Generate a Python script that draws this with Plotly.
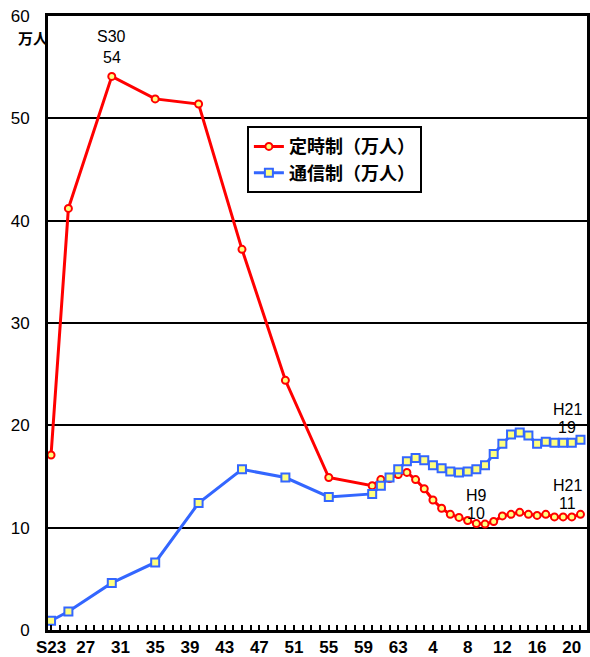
import plotly.graph_objects as go

years_teiji = [1948, 1950, 1955, 1960, 1965, 1970, 1975, 1980, 1985,
               1986, 1987, 1988, 1989, 1990, 1991, 1992, 1993, 1994, 1995,
               1996, 1997, 1998, 1999, 2000, 2001, 2002, 2003, 2004, 2005,
               2006, 2007, 2008, 2009]
teiji = [17.1, 41.2, 54.1, 51.9, 51.4, 37.2, 24.4, 14.9, 14.1,
         14.7, 14.8, 15.2, 15.4, 14.7, 13.8, 12.7, 11.9, 11.3, 11.0,
         10.7, 10.4, 10.35, 10.6, 11.15, 11.3, 11.5, 11.3, 11.2, 11.3,
         11.05, 11.05, 11.05, 11.3]

years_tsushin = years_teiji
tsushin = [0.9, 1.8, 4.6, 6.6, 12.4, 15.7, 14.9, 13.0, 13.3,
           14.1, 14.9, 15.7, 16.5, 16.8, 16.6, 16.1, 15.8, 15.5, 15.4,
           15.5, 15.7, 16.1, 17.2, 18.2, 19.1, 19.3, 19.0, 18.2, 18.4,
           18.3, 18.3, 18.3, 18.6]

tick_years = [1948, 1952, 1956, 1960, 1964, 1968, 1972, 1976, 1980,
              1984, 1988, 1992, 1996, 2000, 2004, 2008]
tick_labels = ["S23", "27", "31", "35", "39", "43", "47", "51", "55",
               "59", "63", "4", "8", "12", "16", "20"]

fig = go.Figure()
fig.add_trace(go.Scatter(
    x=years_teiji, y=teiji, mode="lines+markers", name="定時制（万人）",
    line=dict(color="#ff0000", width=3),
    marker=dict(symbol="circle", size=7, color="#ffff80",
                line=dict(color="#ff0000", width=2)),
))
fig.add_trace(go.Scatter(
    x=years_tsushin, y=tsushin, mode="lines+markers", name="通信制（万人）",
    line=dict(color="#3366ff", width=3),
    marker=dict(symbol="square", size=8, color="#ffff80",
                line=dict(color="#3366ff", width=2)),
))

ann_font = dict(family="Liberation Sans, Arial", size=16, color="black")
anns = [
    (1955, 58.0, "S30"), (1955, 55.9, "54"),
    (1997, 13.15, "H9"), (1997, 11.4, "10"),
    (2007.45, 21.55, "H21"), (2007.45, 19.8, "19"),
    (2007.45, 14.15, "H21"), (2007.45, 12.4, "11"),
]
for ax_, ay_, t in anns:
    fig.add_annotation(x=ax_, y=ay_, text=t, showarrow=False, font=ann_font,
                       xref="x", yref="y")

fig.add_annotation(x=-0.003, y=1.0, xref="paper", yref="paper", text="<b>万人</b>",
                   showarrow=False, xanchor="right", yanchor="top",
                   yshift=-9, xshift=4,
                   font=dict(family="Noto Sans CJK JP", size=15, color="black"))

fig.update_layout(
    width=590, height=657,
    margin=dict(l=48, r=3, t=16, b=27, autoexpand=False),
    paper_bgcolor="white", plot_bgcolor="white",
    showlegend=True,
    legend=dict(x=0.369, y=0.8205, xanchor="left", yanchor="top",
                bordercolor="black", borderwidth=2, bgcolor="white",
                font=dict(family="Noto Sans CJK JP", size=18, color="black", weight="bold"),
                itemwidth=30, tracegroupgap=0),
    font=dict(family="Liberation Sans, Arial", color="black"),
)
fig.update_xaxes(
    range=[1947.65, 2009.75], tickmode="array", tickvals=tick_years,
    ticktext=tick_labels, showgrid=False, zeroline=False, automargin=False,
    showline=True, linecolor="black", linewidth=3, mirror=True,
    ticks="inside", ticklen=5, tickwidth=2, tickcolor="black",
    minor=dict(dtick=1, tick0=1948, ticks="inside", ticklen=5, tickwidth=2,
               tickcolor="black", showgrid=False),
    tickfont=dict(family="Liberation Sans, Arial", size=17, color="black", weight="bold"),
)
fig.update_yaxes(
    range=[0, 60], dtick=10, showgrid=True, gridcolor="black", gridwidth=2,
    zeroline=False, showline=True, linecolor="black", linewidth=3, mirror=True,
    ticks="", ticklabelstandoff=12, automargin=False,
    tickfont=dict(family="Liberation Sans, Arial", size=17, color="black"),
)

fig.write_html("out.html", config={"displayModeBar": False},
               post_script="document.body.style.margin='0';")
